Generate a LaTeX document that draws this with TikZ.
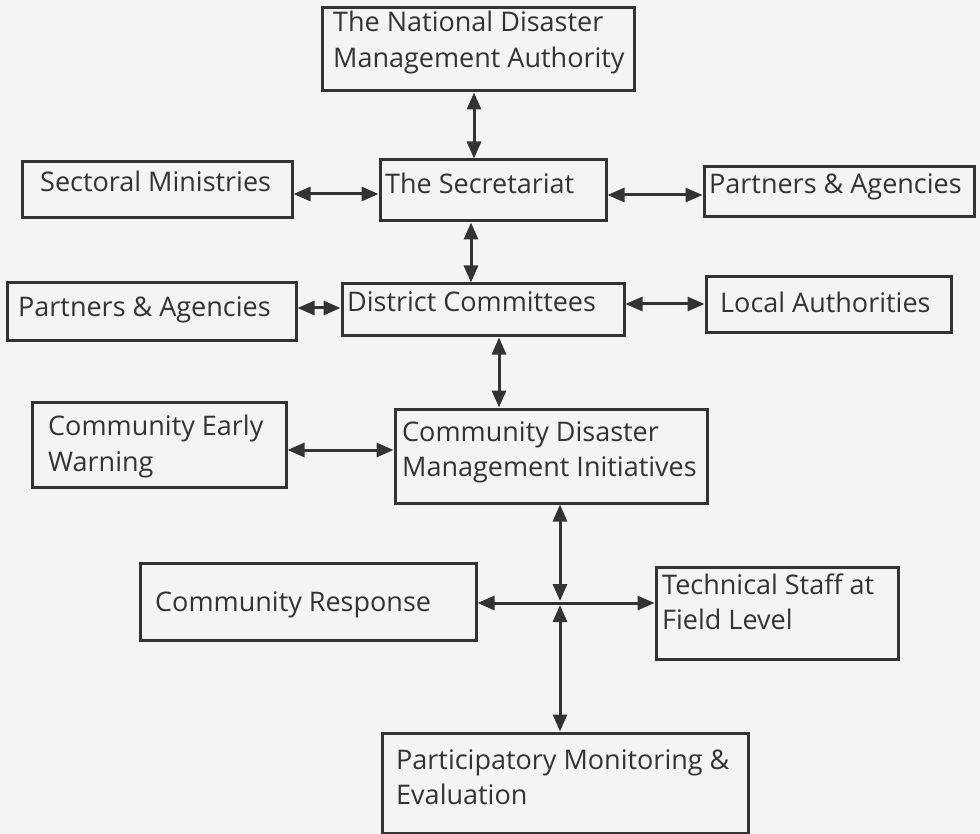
\documentclass[tikz,border=0pt]{standalone}
\usepackage{fontspec}
\setmainfont{Open Sans}
\usetikzlibrary{arrows.meta}
\definecolor{ink}{HTML}{333333}
\definecolor{paper}{HTML}{F4F4F4}
\begin{document}
\begin{tikzpicture}[x=1pt,y=-1pt,
  box/.style={draw=ink, line width=3pt, fill=paper, inner sep=0pt},
  txt/.style={anchor=base west, inner sep=0pt, align=left, text=ink,
    font=\fontsize{27}{35}\selectfont},
  bigtxt/.style={txt, font=\fontsize{27}{36}\selectfont},
  biarrow/.style={draw=ink, line width=3pt,
    {Triangle[length=17pt,width=14pt]}-{Triangle[length=17pt,width=14pt]}}]
\useasboundingbox[fill=paper] (0,0) rectangle (980,834);

% boxes
\node[box, minimum width=312pt, minimum height=83pt] (ndma) at (478,49.5) {};
\node[box, minimum width=226pt, minimum height=61pt] (sec) at (493,190.5) {};
\node[box, minimum width=270pt, minimum height=56pt] (sm) at (157,190) {};
\node[box, minimum width=270pt, minimum height=50pt] (pr) at (839,192) {};
\node[box, minimum width=289pt, minimum height=58pt] (pl) at (151.5,312) {};
\node[box, minimum width=282pt, minimum height=52pt] (dc) at (483,310) {};
\node[box, minimum width=245pt, minimum height=56pt] (la) at (828.5,305) {};
\node[box, minimum width=254pt, minimum height=85pt] (cew) at (159,444.5) {};
\node[box, minimum width=312pt, minimum height=94pt] (cdmi) at (551,456) {};
\node[box, minimum width=336pt, minimum height=77pt] (cr) at (308,601.5) {};
\node[box, minimum width=242pt, minimum height=92pt] (ts) at (777,613) {};
\node[box, minimum width=366pt, minimum height=100pt] (pme) at (565,783) {};

% texts (anchor = baseline of the last line)
\node[bigtxt] (ndma-t) at (333,68) {The National Disaster\\Management Authority};
\node[txt] (sec-t) at (385,194) {The Secretariat};
\node[txt] (sm-t) at (40,192) {Sectoral Ministries};
\node[txt] (pr-t) at (709,194) {Partners \& Agencies};
\node[txt] (pl-t) at (18,317) {Partners \& Agencies};
\node[txt] (dc-t) at (347,312) {District Committees};
\node[txt] (la-t) at (720,313) {Local Authorities};
\node[txt, font=\fontsize{27}{36}\selectfont] (cew-t) at (48,471) {Community Early\\Warning};
\node[txt] (cdmi-t) at (402,476) {Community Disaster\\Management Initiatives};
\node[txt] (cr-t) at (155,611) {Community Response};
\node[txt] (ts-t) at (662,629) {Technical Staff at\\Field Level};
\node[txt] (pme-t) at (396,804) {Participatory Monitoring \&\\Evaluation};

% connector guides
\coordinate (xa) at (474,0);
\coordinate (xb) at (471,0);
\coordinate (xc) at (499,0);
\coordinate (ya) at (0,194);
\coordinate (yb) at (0,195);
\coordinate (yc) at (0,308);
\coordinate (yd) at (0,304);
\coordinate (ye) at (0,450);
\coordinate (cross) at (560,603);

\draw[biarrow] (ndma.south -| xa) -- (sec.north -| xa);
\draw[biarrow] (sm.east |- ya) -- (sec.west |- ya);
\draw[biarrow] (sec.east |- yb) -- (pr.west |- yb);
\draw[biarrow] (sec.south -| xb) -- (dc.north -| xb);
\draw[biarrow] (pl.east |- yc) -- (dc.west |- yc);
\draw[biarrow] (dc.east |- yd) -- (la.west |- yd);
\draw[biarrow] (dc.south -| xc) -- (cdmi.north -| xc);
\draw[biarrow] (cew.east |- ye) -- (cdmi.west |- ye);
\draw[biarrow, shorten >=2pt] (cdmi.south -| cross) -- (cross);
\draw[biarrow, shorten <=2pt] (cross) -- (pme.north -| cross);
\draw[biarrow] (cr.east |- cross) -- (ts.west |- cross);
\end{tikzpicture}
\end{document}
